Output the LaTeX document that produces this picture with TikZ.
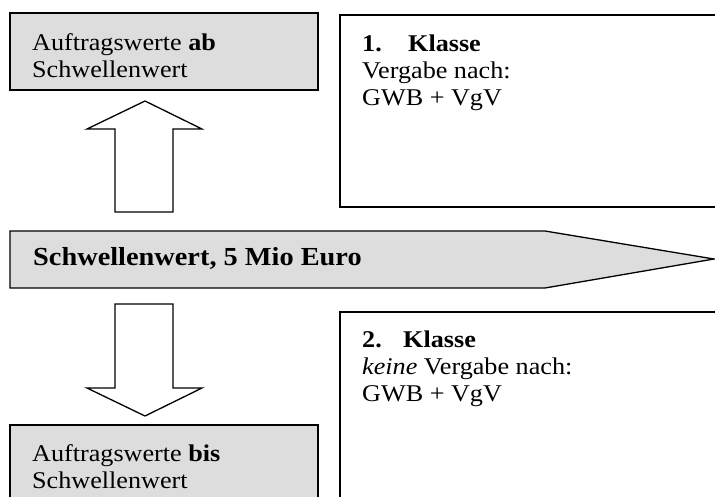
\documentclass[tikz,border=0pt]{standalone}
\usepackage{fontspec}
\setmainfont{Liberation Serif}[FakeStretch=1.09]
\definecolor{boxgray}{RGB}{221,221,221}
\begin{document}
\begin{tikzpicture}[x=1pt,y=-1pt,
  frame/.style={draw=black, line width=1.3pt, line join=miter},
  txt/.style={anchor=base west, inner sep=0pt,
    font=\fontsize{24}{27}\selectfont},
  bigtxt/.style={anchor=base west, inner sep=0pt,
    font=\fontsize{26}{28}\selectfont\bfseries}]
\useasboundingbox (0,0) rectangle (715,496);
\fill[white] (0,0) rectangle (715,496);
\clip (0,0) rectangle (715,496);
% boxes
\draw[frame, fill=boxgray] (10,13) rectangle (318,90);
\draw[frame, fill=white] (340,15) rectangle (730,207);
\draw[frame, fill=white] (340,312) rectangle (730,515);
\draw[frame, fill=boxgray] (10,425) rectangle (318,515);
% block arrows
\draw[frame, fill=white] (115,212) -- (115,129) -- (87,129) -- (145,101)
  -- (202,129) -- (173,129) -- (173,212) -- cycle;
\draw[frame, fill=white] (115,304) -- (173,304) -- (173,388) -- (202,388)
  -- (145,416) -- (87,388) -- (115,388) -- cycle;
\draw[frame, fill=boxgray] (10,231) -- (545,231) -- (714,259) -- (545,288)
  -- (10,288) -- cycle;
% texts
\node[txt] (ab1) at (32,50) {Auftragswerte \textbf{ab}};
\node[txt] (ab2) at (32,77) {Schwellenwert};
\node[txt] (k1a) at (362,51) {\textbf{\makebox[46pt][l]{1.}Klasse}};
\node[txt] (k1b) at (362,78) {Vergabe nach:};
\node[txt] (k1c) at (362,105) {GWB + VgV};
\node[bigtxt] (sw) at (33,265) {Schwellenwert, 5 Mio Euro};
\node[txt] (k2a) at (362,347) {\textbf{\makebox[41pt][l]{2.}Klasse}};
\node[txt] (k2b) at (362,374) {\textit{keine} Vergabe nach:};
\node[txt] (k2c) at (362,401) {GWB + VgV};
\node[txt] (bis1) at (32,461) {Auftragswerte \textbf{bis}};
\node[txt] (bis2) at (32,488) {Schwellenwert};
\end{tikzpicture}
\end{document}
